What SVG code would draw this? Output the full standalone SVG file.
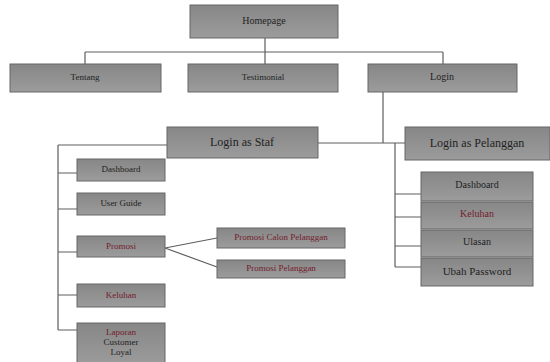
<svg xmlns="http://www.w3.org/2000/svg" width="550" height="362" viewBox="0 0 550 362">
  <defs>
    <linearGradient id="boxFill" x1="0" y1="0" x2="0" y2="1">
      <stop offset="0" stop-color="#878787"/>
      <stop offset="0.5" stop-color="#919191"/>
      <stop offset="1" stop-color="#9c9c9c"/>
    </linearGradient>
    <style>
      .box { fill: url(#boxFill); stroke: #666666; stroke-width: 1; }
      .lbl { font-family: "Liberation Serif", "Times New Roman", serif; fill: #222222; text-anchor: middle; dominant-baseline: middle; }
      .red { fill: #74202d; }
      .s9 { font-size: 9px; }
      .s10 { font-size: 10px; }
      .s11 { font-size: 11px; }
      .s12 { font-size: 12px; }
      .conn { stroke: #5e5e5e; stroke-width: 1.2; fill: none; }
    </style>
  </defs>
  <rect width="550" height="362" fill="#ffffff"/>

  <g id="connectors">
    <!-- top level -->
    <path class="conn" d="M265 38 V52 M85 52 H443 M85 52 V64 M265 52 V64 M443 52 V64"/>
    <!-- login split -->
    <path class="conn" d="M383 92 V143 M318 143 H395 M395 143 V267 M395 143 H405"/>
    <!-- staff tree -->
    <path class="conn" d="M58 145 H167 M58 145 V330 M58 173 H77 M58 209 H77 M58 252 H77 M58 295 H77 M58 330 H77"/>
    <!-- promosi branches -->
    <path class="conn" d="M165 248 L217 238 M165 248 L217 267"/>
    <!-- customer tree -->
    <path class="conn" d="M395 194 H421 M395 217 H421 M395 246 H421 M395 267 H421"/>
  </g>

  <g id="homepage">
    <rect class="box" x="190" y="5" width="148" height="33"/>
    <text class="lbl s10" x="264" y="22">Homepage</text>
  </g>
  <g id="tentang">
    <rect class="box" x="10" y="64" width="151" height="28"/>
    <text class="lbl s9" x="85" y="78">Tentang</text>
  </g>
  <g id="testimonial">
    <rect class="box" x="188" y="64" width="150" height="28"/>
    <text class="lbl s9" x="263" y="78">Testimonial</text>
  </g>
  <g id="login">
    <rect class="box" x="368" y="64" width="149" height="28"/>
    <text class="lbl s10" x="442" y="78">Login</text>
  </g>

  <g id="login-staf">
    <rect class="box" x="167" y="127" width="151" height="31"/>
    <text class="lbl s12" x="242" y="143">Login as Staf</text>
  </g>
  <g id="login-pelanggan">
    <rect class="box" x="405" y="127" width="145" height="33"/>
    <text class="lbl s12" x="477" y="144">Login as Pelanggan</text>
  </g>

  <g id="staf-dashboard">
    <rect class="box" x="77" y="159" width="88" height="22"/>
    <text class="lbl s9" x="121" y="170">Dashboard</text>
  </g>
  <g id="staf-userguide">
    <rect class="box" x="77" y="193" width="88" height="22"/>
    <text class="lbl s9" x="121" y="204">User Guide</text>
  </g>
  <g id="staf-promosi">
    <rect class="box" x="77" y="236" width="88" height="21"/>
    <text class="lbl s9 red" x="121" y="247">Promosi</text>
  </g>
  <g id="staf-keluhan">
    <rect class="box" x="77" y="284" width="88" height="23"/>
    <text class="lbl s9 red" x="121" y="296">Keluhan</text>
  </g>
  <g id="staf-laporan">
    <rect class="box" x="77" y="323" width="88" height="42"/>
    <text class="lbl s9" x="121" y="333"><tspan class="red">Laporan</tspan></text>
    <text class="lbl s9" x="121" y="343">Customer</text>
    <text class="lbl s9" x="121" y="353">Loyal</text>
  </g>

  <g id="promosi-calon">
    <rect class="box" x="217" y="228" width="128" height="20"/>
    <text class="lbl s9 red" x="281" y="238">Promosi Calon Pelanggan</text>
  </g>
  <g id="promosi-pelanggan">
    <rect class="box" x="217" y="260" width="128" height="18"/>
    <text class="lbl s9 red" x="281" y="269">Promosi Pelanggan</text>
  </g>

  <g id="pel-dashboard">
    <rect class="box" x="421" y="172" width="112" height="29"/>
    <text class="lbl s10" x="477" y="186">Dashboard</text>
  </g>
  <g id="pel-keluhan">
    <rect class="box" x="421" y="202" width="112" height="27"/>
    <text class="lbl s10 red" x="477" y="215">Keluhan</text>
  </g>
  <g id="pel-ulasan">
    <rect class="box" x="421" y="230" width="112" height="27"/>
    <text class="lbl s10" x="477" y="243">Ulasan</text>
  </g>
  <g id="pel-ubah-password">
    <rect class="box" x="421" y="258" width="112" height="28"/>
    <text class="lbl s11" x="477" y="272">Ubah Password</text>
  </g>
</svg>
